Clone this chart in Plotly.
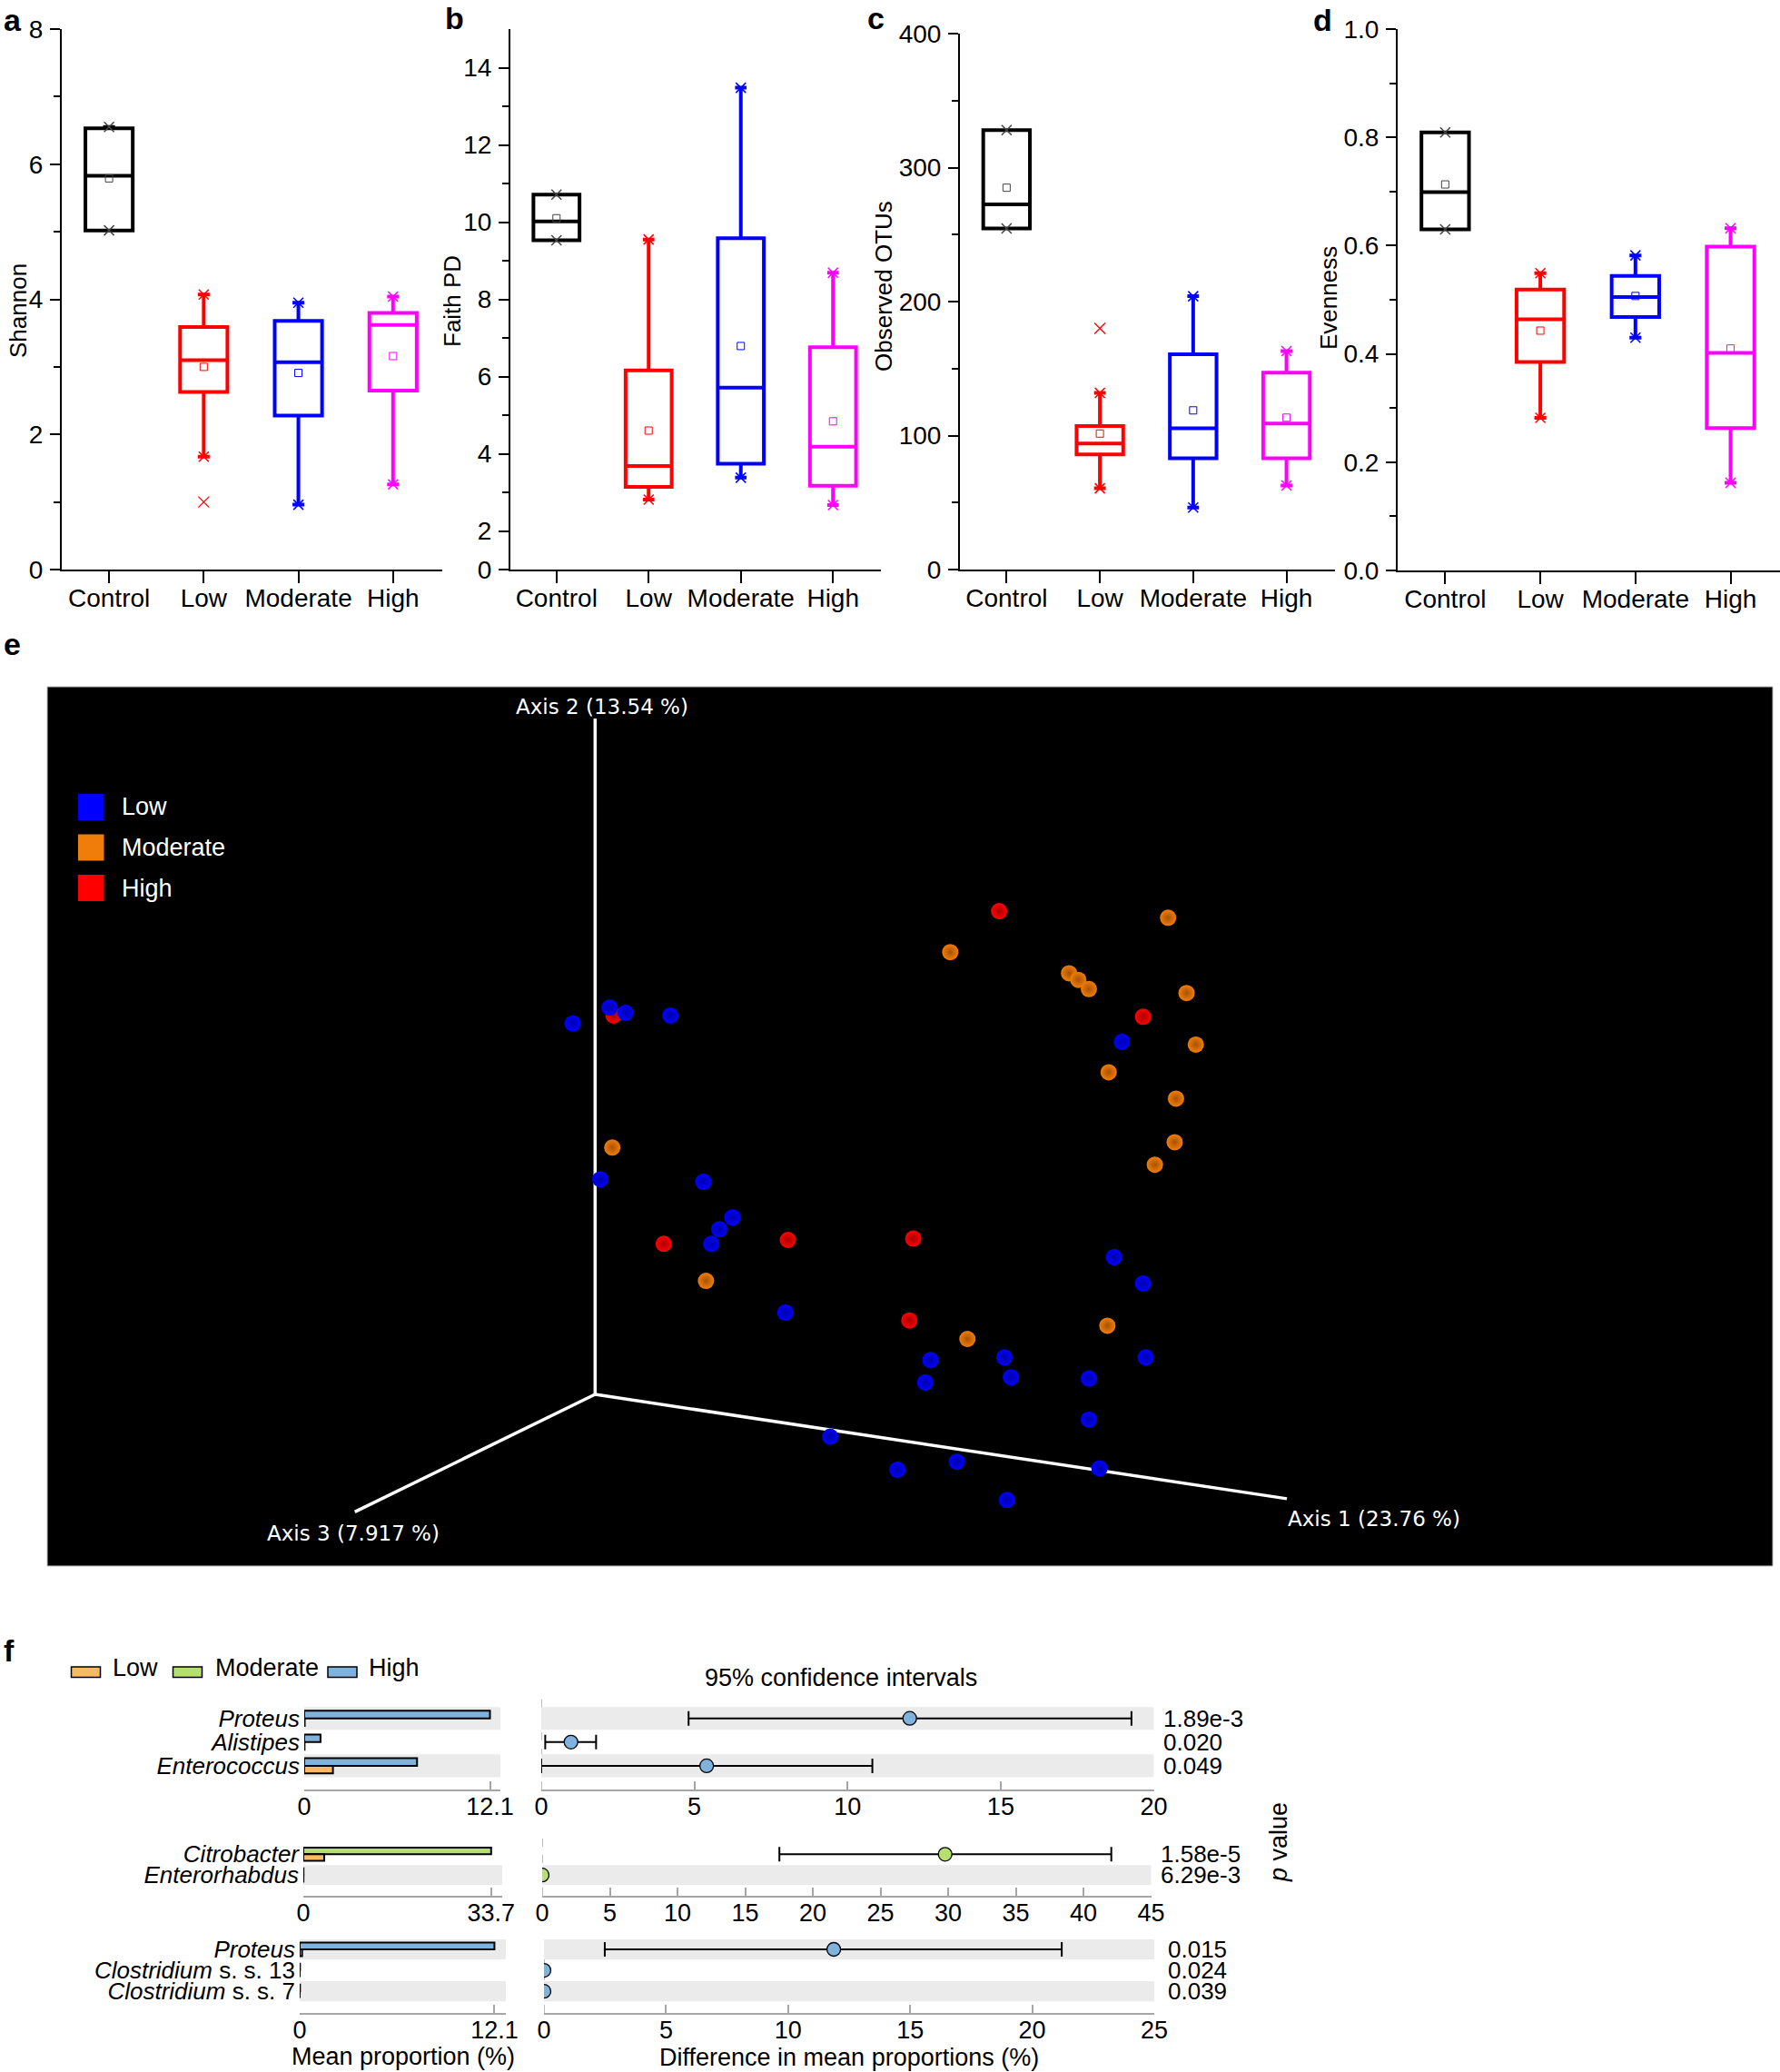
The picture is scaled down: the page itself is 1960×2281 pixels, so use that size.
import plotly.graph_objects as go

W, H = 1960, 2281
FONT = "Liberation Sans, Arial, sans-serif"
EFONT = "DejaVu Sans, Verdana, sans-serif"


def px(x):
    return x / W


def py(y):
    return 1 - y / H


def ax_key(kind, n):
    return f"{kind}axis" if n == 1 else f"{kind}axis{n}"


def ax_ref(kind, n):
    return kind if n == 1 else f"{kind}{n}"


# ---------------- panels a-d : alpha diversity box plots ----------------
CATS = ["Control", "Low", "Moderate", "High"]
BOX_COLORS = ["#000000", "#FF0000", "#0000FF", "#FF00FF"]

shannon_q1 = [5.02, 2.63, 2.28, 2.65]
shannon_median = [5.83, 3.10, 3.07, 3.62]
shannon_q3 = [6.53, 3.59, 3.68, 3.80]
shannon_min = [5.02, 1.67, 0.96, 1.26]
shannon_max = [6.55, 4.07, 3.95, 4.04]
shannon_mean = [5.79, 3.00, 2.91, 3.16]
shannon_outlier_cat = ["Low"]
shannon_outlier_val = [1.00]

faith_q1 = [9.53, 3.14, 3.74, 3.17]
faith_median = [10.02, 3.68, 5.71, 4.18]
faith_q3 = [10.71, 6.16, 9.58, 6.76]
faith_min = [9.53, 2.81, 3.38, 2.67]
faith_max = [10.71, 9.55, 13.48, 8.69]
faith_mean = [10.10, 4.60, 6.79, 4.84]
faith_outlier_cat = []
faith_outlier_val = []

otus_q1 = [254.6, 86.0, 83.0, 83.0]
otus_median = [272.5, 94.0, 105.4, 109.0]
otus_q3 = [328.0, 107.2, 160.6, 147.0]
otus_min = [254.6, 60.6, 46.3, 62.7]
otus_max = [328.0, 131.9, 204.0, 163.0]
otus_mean = [285.0, 101.5, 118.8, 113.4]
otus_outlier_cat = ["Low"]
otus_outlier_val = [180.0]

even_q1 = [0.630, 0.385, 0.468, 0.263]
even_median = [0.699, 0.464, 0.505, 0.402]
even_q3 = [0.809, 0.519, 0.544, 0.598]
even_min = [0.630, 0.282, 0.430, 0.162]
even_max = [0.809, 0.549, 0.582, 0.632]
even_mean = [0.713, 0.443, 0.507, 0.410]
even_outlier_cat = []
even_outlier_val = []

shannon_ticks = [0, 2, 4, 6, 8]
shannon_ticktext = ["0", "2", "4", "6", "8"]
shannon_minor = [1, 3, 5, 7]
faith_ticks = [1, 2, 4, 6, 8, 10, 12, 14]
faith_ticktext = ["0", "2", "4", "6", "8", "10", "12", "14"]
faith_minor = [3, 5, 7, 9, 11, 13]
otus_ticks = [0, 100, 200, 300, 400]
otus_ticktext = ["0", "100", "200", "300", "400"]
otus_minor = [50, 150, 250, 350]
even_ticks = [0, 0.2, 0.4, 0.6, 0.8, 1.0]
even_ticktext = ["0.0", "0.2", "0.4", "0.6", "0.8", "1.0"]
even_minor = [0.1, 0.3, 0.5, 0.7, 0.9]

# ---------------- panel e : PCoA (projected 3-D view) ----------------
pc_low_x = [-0.17, 0.11, 0.23, 0.57, 3.99, 0.04, 0.82, 1.04, 0.94, 0.88, 1.44, 3.93, 4.15,
            2.54, 3.10, 2.50, 3.15, 3.74, 4.17, 3.74, 1.78, 2.29, 2.74, 3.12, 3.82]
pc_low_y = [2.81, 2.93, 2.89, 2.87, 2.67, 1.63, 1.61, 1.34, 1.25, 1.14, 0.62, 1.04, 0.84,
            0.26, 0.28, 0.09, 0.13, 0.12, 0.28, -0.19, -0.32, -0.57, -0.51, -0.80, -0.56]
pc_mod_x = [4.34, 2.69, 3.59, 3.66, 3.74, 4.48, 4.55, 3.89, 4.40, 4.39, 4.24, 0.13, 0.84, 2.82, 3.88]
pc_mod_y = [3.61, 3.35, 3.19, 3.14, 3.07, 3.04, 2.65, 2.44, 2.24, 1.91, 1.74, 1.87, 0.86, 0.42, 0.52]
pc_high_x = [3.06, 4.15, 0.14, 0.52, 1.46, 2.41, 2.38]
pc_high_y = [3.66, 2.86, 2.87, 1.14, 1.17, 1.18, 0.56]

pc_axis_names = ["Axis 1 (23.76 %)", "Axis 2 (13.54 %)", "Axis 3 (7.917 %)"]
pc_axis_end_x = [5.24, 0.00, -1.82]
pc_axis_end_y = [-0.79, 5.12, -0.89]

PC_GROUPS = ["Low", "Moderate", "High"]
PC_COLORS = ["#0000FF", "#F07D0A", "#FF0000"]
PC_EDGE = ["#0000A8", "#A85200", "#A80000"]

# ---------------- panel f : differential genera ----------------
F_COLORS = {"Low": "#F9B967", "Moderate": "#B5DF6E", "High": "#7FB2DC"}
F_LEGEND = ["Low", "Moderate", "High"]

g1_genera = ["Proteus", "Alistipes", "Enterococcus"]
g1_upper_group, g1_lower_group = "High", "Low"
g1_upper_mean = [12.1, 1.06, 7.35]
g1_lower_mean = [0.03, 0.02, 1.87]
g1_diff = [12.03, 0.97, 5.40]
g1_ci_low = [4.81, 0.13, 0.0]
g1_ci_high = [19.27, 1.79, 10.81]
g1_p = ["1.89e-3", "0.020", "0.049"]
g1_bar_ticks = [0, 12.1]
g1_diff_ticks = [0, 5, 10, 15, 20]

g2_genera = ["Citrobacter", "Enterorhabdus"]
g2_upper_group, g2_lower_group = "Moderate", "Low"
g2_upper_mean = [33.7, 0.03]
g2_lower_mean = [3.74, 0.02]
g2_diff = [29.78, 0.0]
g2_ci_low = [17.53, 0.0]
g2_ci_high = [42.06, 0.0]
g2_p = ["1.58e-5", "6.29e-3"]
g2_bar_ticks = [0, 33.7]
g2_diff_ticks = [0, 5, 10, 15, 20, 25, 30, 35, 40, 45]

g3_genera = ["Proteus", "Clostridium s. s. 13", "Clostridium s. s. 7"]
g3_labels = ["<i>Proteus</i>", "<i>Clostridium</i> s. s. 13", "<i>Clostridium</i> s. s. 7"]
g3_upper_group, g3_lower_group = "High", "Moderate"
g3_upper_mean = [12.1, 0.02, 0.02]
g3_lower_mean = [0.15, 0.0, 0.0]
g3_diff = [11.87, 0.0, 0.0]
g3_ci_low = [2.49, 0.0, 0.0]
g3_ci_high = [21.21, 0.0, 0.0]
g3_p = ["0.015", "0.024", "0.039"]
g3_bar_ticks = [0, 12.1]
g3_diff_ticks = [0, 5, 10, 15, 20, 25]

fig = go.Figure()
layout = {}
annotations = []
shapes = []

# ======================= box panels =======================
box_panels = [
    dict(n=1, q1=shannon_q1, med=shannon_median, q3=shannon_q3, lo=shannon_min, hi=shannon_max,
         mean=shannon_mean, oc=shannon_outlier_cat, ov=shannon_outlier_val,
         xdom=(68, 487), ydom=(32, 627), yr=[0, 8], tv=shannon_ticks, tt=shannon_ticktext,
         mv=shannon_minor, title="Shannon", txy=(20, 342), label="a", lxy=(14, 22)),
    dict(n=2, q1=faith_q1, med=faith_median, q3=faith_q3, lo=faith_min, hi=faith_max,
         mean=faith_mean, oc=faith_outlier_cat, ov=faith_outlier_val,
         xdom=(562, 970), ydom=(32, 627), yr=[1, 15], tv=faith_ticks, tt=faith_ticktext,
         mv=faith_minor, title="Faith PD", txy=(498, 332), label="b", lxy=(500, 20)),
    dict(n=3, q1=otus_q1, med=otus_median, q3=otus_q3, lo=otus_min, hi=otus_max,
         mean=otus_mean, oc=otus_outlier_cat, ov=otus_outlier_val,
         xdom=(1057, 1470), ydom=(37, 627), yr=[0, 400], tv=otus_ticks, tt=otus_ticktext,
         mv=otus_minor, title="Observed OTUs", txy=(973, 315), label="c", lxy=(964, 20)),
    dict(n=4, q1=even_q1, med=even_median, q3=even_q3, lo=even_min, hi=even_max,
         mean=even_mean, oc=even_outlier_cat, ov=even_outlier_val,
         xdom=(1539, 1960), ydom=(32, 628), yr=[0, 1.0], tv=even_ticks, tt=even_ticktext,
         mv=even_minor, title="Evenness", txy=(1463, 328), label="d", lxy=(1456, 22)),
]

for p in box_panels:
    n = p["n"]
    xr, yr_ = ax_ref("x", n), ax_ref("y", n)
    for i, cat in enumerate(CATS):
        c = BOX_COLORS[i]
        fig.add_trace(go.Box(
            x=[cat], q1=[p["q1"][i]], median=[p["med"][i]], q3=[p["q3"][i]],
            lowerfence=[p["lo"][i]], upperfence=[p["hi"][i]],
            width=0.5, whiskerwidth=0.25, boxpoints=False,
            line=dict(color=c, width=4), fillcolor="rgba(0,0,0,0)",
            xaxis=xr, yaxis=yr_, showlegend=False, hoverinfo="skip"))
        mark_c = "#444444" if i == 0 else c
        fig.add_trace(go.Scatter(
            x=[cat, cat], y=[p["lo"][i], p["hi"][i]], mode="markers",
            marker=dict(symbol="x-thin-open", size=11, color=mark_c,
                        line=dict(color=mark_c, width=1.5)),
            xaxis=xr, yaxis=yr_, showlegend=False, hoverinfo="skip"))
        fig.add_trace(go.Scatter(
            x=[cat], y=[p["mean"][i]], mode="markers",
            marker=dict(symbol="square-open", size=8, color=mark_c,
                        line=dict(color=mark_c, width=1)),
            xaxis=xr, yaxis=yr_, showlegend=False, hoverinfo="skip"))
    if p["oc"]:
        oc_col = [BOX_COLORS[CATS.index(c)] for c in p["oc"]]
        fig.add_trace(go.Scatter(
            x=p["oc"], y=p["ov"], mode="markers",
            marker=dict(symbol="x-thin-open", size=12, color=oc_col,
                        line=dict(color=oc_col, width=1.3)),
            xaxis=xr, yaxis=yr_, showlegend=False, hoverinfo="skip"))

    layout[ax_key("x", n)] = dict(
        domain=[px(p["xdom"][0]), px(p["xdom"][1])], anchor=yr_, type="category",
        categoryorder="array", categoryarray=CATS, range=[-0.5, 3.52], automargin=False,
        showline=True, linecolor="black", linewidth=2, ticks="outside", ticklen=13,
        tickwidth=2, tickcolor="black", showgrid=False, zeroline=False,
        ticklabelstandoff=-8,
        tickfont=dict(family=FONT, size=28, color="black"))
    layout[ax_key("y", n)] = dict(
        domain=[py(p["ydom"][1]), py(p["ydom"][0])], anchor=xr, range=p["yr"],
        tickmode="array", tickvals=p["tv"], ticktext=p["tt"], automargin=False,
        showline=True, linecolor="black", linewidth=2, ticks="outside", ticklen=11,
        tickwidth=2, tickcolor="black", showgrid=False, zeroline=False,
        ticklabelstandoff=2,
        minor=dict(tickmode="array", tickvals=p["mv"], ticks="outside", ticklen=7,
                   tickwidth=2, tickcolor="black", showgrid=False),
        tickfont=dict(family=FONT, size=28, color="black"))
    annotations.append(dict(
        text=p["title"], x=px(p["txy"][0]), y=py(p["txy"][1]), xref="paper", yref="paper",
        textangle=-90, showarrow=False, xanchor="center", yanchor="middle",
        font=dict(family=FONT, size=26, color="black")))
    annotations.append(dict(
        text=f"<b>{p['label']}</b>", x=px(p["lxy"][0]), y=py(p["lxy"][1]), xref="paper",
        yref="paper", showarrow=False, xanchor="center", yanchor="middle",
        font=dict(family=FONT, size=34, color="black")))

# ======================= panel e =======================
NE = 5
xe, ye = ax_ref("x", NE), ax_ref("y", NE)
shapes.append(dict(type="rect", xref=f"{xe} domain", yref=f"{ye} domain", x0=0, x1=1, y0=0, y1=1,
                   fillcolor="black", line=dict(color="#BBBBBB", width=1), layer="below"))
axis_line_x, axis_line_y = [], []
for ex, ey in zip(pc_axis_end_x, pc_axis_end_y):
    axis_line_x += [0, ex, None]
    axis_line_y += [0, ey, None]
fig.add_trace(go.Scatter(x=axis_line_x, y=axis_line_y, mode="lines",
                         line=dict(color="white", width=3.5), xaxis=xe, yaxis=ye,
                         showlegend=False, hoverinfo="skip"))
pc_data = {"Low": (pc_low_x, pc_low_y), "Moderate": (pc_mod_x, pc_mod_y),
           "High": (pc_high_x, pc_high_y)}
for g in ["High", "Moderate", "Low"]:
    gi = PC_GROUPS.index(g)
    gx, gy = pc_data[g]
    fig.add_trace(go.Scatter(
        x=gx, y=gy, mode="markers", name=g,
        marker=dict(size=18, color=PC_COLORS[gi],
                    gradient=dict(type="radial", color=PC_EDGE[gi]),
                    line=dict(width=0)),
        xaxis=xe, yaxis=ye, showlegend=False, hoverinfo="skip"))

layout[ax_key("x", NE)] = dict(domain=[px(52), px(1952)], anchor=ye, range=[-4.15, 8.92],
                               visible=False, showgrid=False, zeroline=False, automargin=False)
layout[ax_key("y", NE)] = dict(domain=[py(1724), py(756)], anchor=xe, range=[-1.30, 5.36],
                               visible=False, showgrid=False, zeroline=False, automargin=False)
# axis labels of the 3-D view
annotations.append(dict(text=pc_axis_names[0], x=pc_axis_end_x[0] - 0.01, y=pc_axis_end_y[0] - 0.15,
                        xref=xe, yref=ye, showarrow=False, xanchor="left", yanchor="middle",
                        font=dict(family=EFONT, size=23, color="white")))
annotations.append(dict(text=pc_axis_names[1], x=pc_axis_end_x[1] + 0.05, y=pc_axis_end_y[1] + 0.09,
                        xref=xe, yref=ye, showarrow=False, xanchor="center", yanchor="middle",
                        font=dict(family=EFONT, size=23, color="white")))
annotations.append(dict(text=pc_axis_names[2], x=pc_axis_end_x[2] - 0.01, y=pc_axis_end_y[2] - 0.16,
                        xref=xe, yref=ye, showarrow=False, xanchor="center", yanchor="middle",
                        font=dict(family=EFONT, size=23, color="white")))
# legend of panel e
for k, g in enumerate(PC_GROUPS):
    yc = 888.5 + k * 44.5
    shapes.append(dict(type="rect", xref="paper", yref="paper", x0=px(86), x1=px(114.5),
                       y0=py(yc + 14.5), y1=py(yc - 14.5), fillcolor=PC_COLORS[k],
                       line=dict(width=0)))
    annotations.append(dict(text=g, x=px(132), y=py(yc), xref="paper", yref="paper",
                            showarrow=False, xanchor="left", yanchor="middle",
                            font=dict(family=FONT, size=27, color="white")))
annotations.append(dict(text="<b>e</b>", x=px(13), y=py(709), xref="paper", yref="paper",
                        showarrow=False, xanchor="center", yanchor="middle",
                        font=dict(family=FONT, size=34, color="black")))

# ======================= panel f =======================
GRAY = "#A6A6A6"
BAND = "#EBEBEB"
f_groups = [
    dict(genera=g1_genera, labels=[f"<i>{g}</i>" for g in g1_genera], up=g1_upper_group,
         low=g1_lower_group, upm=g1_upper_mean, lom=g1_lower_mean, diff=g1_diff,
         cil=g1_ci_low, cih=g1_ci_high, p=g1_p, bt=g1_bar_ticks, dt=g1_diff_ticks,
         bar_dom=(335, 551), ci_dom=(596, 1270.5), ydom=(1869, 1970), yr=[3.0, -0.87],
         bar_max=12.78, p_x=1279),
    dict(genera=g2_genera, labels=[f"<i>{g}</i>" for g in g2_genera], up=g2_upper_group,
         low=g2_lower_group, upm=g2_upper_mean, lom=g2_lower_mean, diff=g2_diff,
         cil=g2_ci_low, cih=g2_ci_high, p=g2_p, bt=g2_bar_ticks, dt=g2_diff_ticks,
         bar_dom=(334, 553), ci_dom=(597, 1267.5), ydom=(2018, 2087), yr=[2.0, -1.02],
         bar_max=35.69, p_x=1276),
    dict(genera=g3_genera, labels=g3_labels, up=g3_upper_group,
         low=g3_lower_group, upm=g3_upper_mean, lom=g3_lower_mean, diff=g3_diff,
         cil=g3_ci_low, cih=g3_ci_high, p=g3_p, bt=g3_bar_ticks, dt=g3_diff_ticks,
         bar_dom=(330, 557), ci_dom=(599, 1271), ydom=(2134, 2216), yr=[3.03, -0.52],
         bar_max=12.81, p_x=1284),
]

for gi, G in enumerate(f_groups):
    nb, nc = 6 + gi, 9 + gi
    xb, yb = ax_ref("x", nb), ax_ref("y", nb)
    xc, yc = ax_ref("x", nc), ax_ref("y", nc)
    nrow = len(G["genera"])
    idx = list(range(nrow))
    # dashed zero line of CI panel
    shapes.append(dict(type="line", xref=xc, yref=f"{yc} domain", x0=0, x1=0, y0=0, y1=1,
                       line=dict(color=GRAY, width=1.5, dash="dash"), layer="below"))
    # alternating row bands (bottom row shaded)
    for i in idx:
        if (nrow - 1 - i) % 2 == 0:
            for xa, ya in [(xb, yb), (xc, yc)]:
                shapes.append(dict(type="rect", xref=f"{xa} domain", yref=ya, x0=0, x1=1,
                                   y0=i - 0.48, y1=i + 0.48, fillcolor=BAND,
                                   line=dict(width=0), layer="below"))
    # mean proportion bars
    fig.add_trace(go.Bar(y=idx, x=G["upm"], orientation="h", width=0.32, offset=-0.32,
                         marker=dict(color=F_COLORS[G["up"]], line=dict(color="black", width=2)),
                         xaxis=xb, yaxis=yb, showlegend=False, hoverinfo="skip"))
    fig.add_trace(go.Bar(y=idx, x=G["lom"], orientation="h", width=0.32, offset=0.0,
                         marker=dict(color=F_COLORS[G["low"]], line=dict(color="black", width=2)),
                         xaxis=xb, yaxis=yb, showlegend=False, hoverinfo="skip"))
    # confidence intervals
    ci_rows = [i for i in idx if G["cih"][i] > G["cil"][i]]
    fig.add_trace(go.Scatter(
        x=[G["diff"][i] for i in ci_rows], y=ci_rows, mode="markers",
        marker=dict(size=1, color="rgba(0,0,0,0)"),
        error_x=dict(type="data", symmetric=False,
                     array=[G["cih"][i] - G["diff"][i] for i in ci_rows],
                     arrayminus=[G["diff"][i] - G["cil"][i] for i in ci_rows],
                     color="black", thickness=2, width=8),
        xaxis=xc, yaxis=yc, showlegend=False, hoverinfo="skip"))
    fig.add_trace(go.Scatter(
        x=G["diff"], y=idx, mode="markers",
        marker=dict(size=15, color=F_COLORS[G["up"]], line=dict(color="black", width=1.3)),
        xaxis=xc, yaxis=yc, showlegend=False, hoverinfo="skip"))
    # p values
    for i in idx:
        annotations.append(dict(text=G["p"][i], x=px(G["p_x"]), y=i, xref="paper", yref=yc,
                                showarrow=False, xanchor="left", yanchor="middle",
                                font=dict(family=FONT, size=26, color="black")))
    common_y = dict(domain=[py(G["ydom"][1]), py(G["ydom"][0])], range=G["yr"],
                    showgrid=False, zeroline=False, showline=False, automargin=False)
    layout[ax_key("y", nb)] = dict(common_y, anchor=xb, tickmode="array", tickvals=idx,
                                   ticktext=G["labels"], ticks="", ticklabelstandoff=4,
                                   tickfont=dict(family=FONT, size=26, color="black"))
    layout[ax_key("y", nc)] = dict(common_y, anchor=xc, showticklabels=False, ticks="")
    common_x = dict(showline=True, linecolor=GRAY, linewidth=2, ticks="inside", ticklen=9,
                    tickcolor=GRAY, tickwidth=1.5, showgrid=False, zeroline=False,
                    automargin=False, tickmode="array", ticklabelstandoff=-6,
                    tickfont=dict(family=FONT, size=27, color="black"))
    layout[ax_key("x", nb)] = dict(common_x, domain=[px(G["bar_dom"][0]), px(G["bar_dom"][1])],
                                   anchor=yb, range=[0, G["bar_max"]], tickvals=G["bt"],
                                   ticktext=[("%g" % v) for v in G["bt"]])
    layout[ax_key("x", nc)] = dict(common_x, domain=[px(G["ci_dom"][0]), px(G["ci_dom"][1])],
                                   anchor=yc, range=[0, G["dt"][-1]], tickvals=G["dt"])

# panel f texts
annotations.append(dict(text="<b>f</b>", x=px(10), y=py(1817), xref="paper", yref="paper",
                        showarrow=False, xanchor="center", yanchor="middle",
                        font=dict(family=FONT, size=34, color="black")))
legend_icon_x = [78.5, 190.5, 361]
legend_text_x = [122, 235, 404]
for k, g in enumerate(F_LEGEND):
    shapes.append(dict(type="rect", xref="paper", yref="paper", x0=px(legend_icon_x[k]),
                       x1=px(legend_icon_x[k] + 32), y0=py(1846.5), y1=py(1835),
                       fillcolor=F_COLORS[g], line=dict(color="black", width=1.5)))
    annotations.append(dict(text=g, x=px(legend_text_x[k]), y=py(1836), xref="paper", yref="paper",
                            showarrow=False, xanchor="left", yanchor="middle",
                            font=dict(family=FONT, size=27, color="black")))
annotations.append(dict(text="95% confidence intervals", x=px(926), y=py(1847), xref="paper",
                        yref="paper", showarrow=False, xanchor="center", yanchor="middle",
                        font=dict(family=FONT, size=27, color="black")))
annotations.append(dict(text="Mean proportion (%)", x=px(444), y=py(2264), xref="paper",
                        yref="paper", showarrow=False, xanchor="center", yanchor="middle",
                        font=dict(family=FONT, size=27, color="black")))
annotations.append(dict(text="Difference in mean proportions (%)", x=px(935), y=py(2265),
                        xref="paper", yref="paper", showarrow=False, xanchor="center",
                        yanchor="middle", font=dict(family=FONT, size=27, color="black")))
annotations.append(dict(text="<i>p</i> value", x=px(1408), y=py(2028), xref="paper",
                        yref="paper", showarrow=False, textangle=-90, xanchor="center",
                        yanchor="middle", font=dict(family=FONT, size=27, color="black")))

fig.update_layout(
    width=W, height=H, margin=dict(l=0, r=0, t=0, b=0, pad=0, autoexpand=False),
    paper_bgcolor="white", plot_bgcolor="white", showlegend=False,
    barmode="overlay", font=dict(family=FONT, color="black"),
    annotations=annotations, shapes=shapes, **layout)

fig.write_html("out.html", config={"displayModeBar": False},
               post_script="document.body.style.margin='0px';")
